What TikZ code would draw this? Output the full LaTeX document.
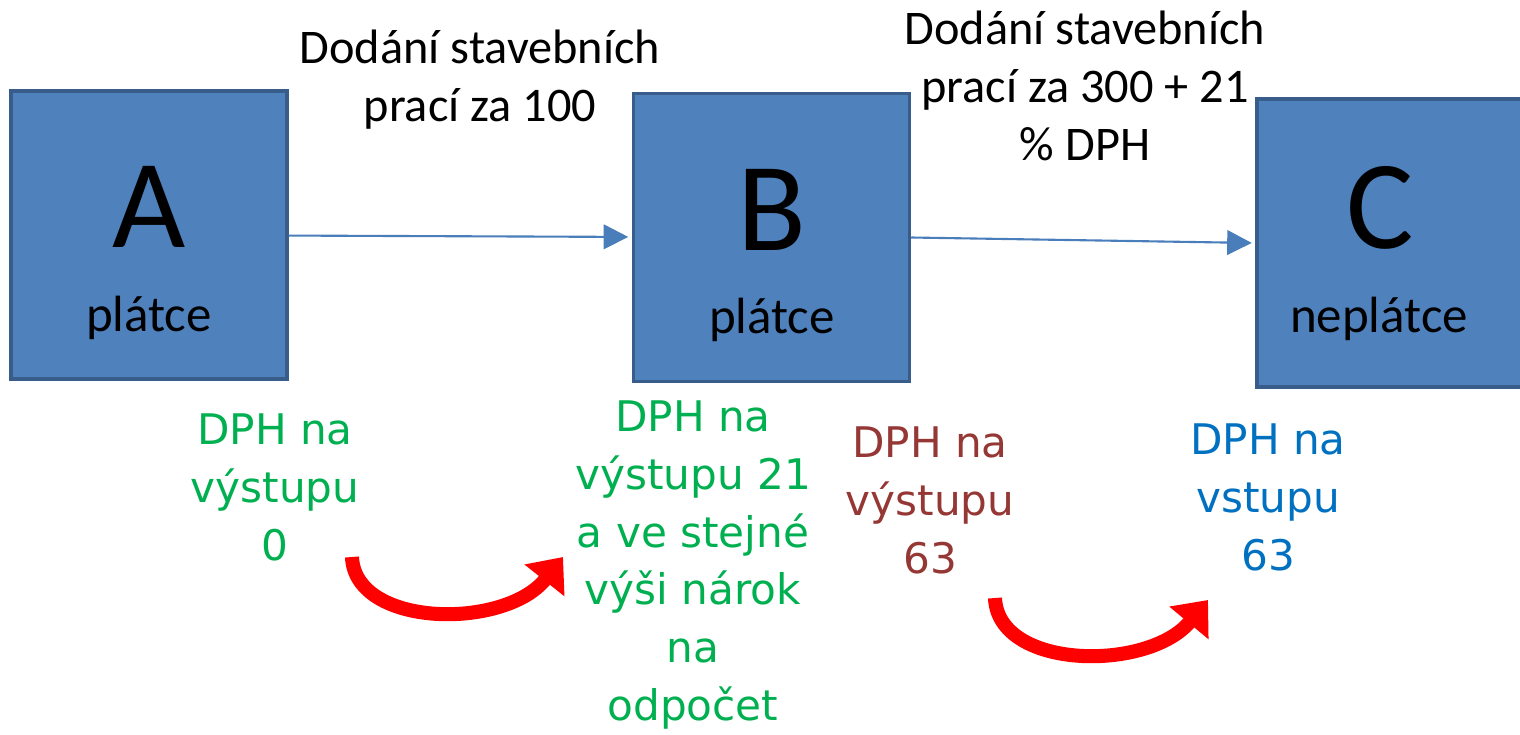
\documentclass[tikz,border=0pt]{standalone}
\usepackage{fontspec}
\setmainfont{Carlito}
\newfontfamily\handfont{DejaVu Sans}
\usetikzlibrary{arrows.meta}
\definecolor{boxfill}{RGB}{79,129,189}
\definecolor{boxline}{RGB}{56,93,138}
\definecolor{flowline}{RGB}{74,126,187}
\definecolor{vatgreen}{RGB}{0,176,80}
\definecolor{vatbrown}{RGB}{149,55,53}
\definecolor{vatblue}{RGB}{0,112,192}
\tikzset{
  party/.style={draw=boxline, fill=boxfill, line width=2pt, minimum width=5.52cm, minimum height=5.76cm, inner sep=0pt},
  letter/.style={anchor=base, font=\fontsize{72}{76}\selectfont},
  kind/.style={anchor=base, font=\fontsize{29}{34}\selectfont},
  supply/.style={align=center, font=\fontsize{27.5}{33}\selectfont},
  vat/.style={align=center, font=\handfont\fontsize{24}{33}\selectfont},
  flow/.style={draw=flowline, line width=1.2pt, shorten >=2pt, -{Triangle[length=14pt,width=14pt]}},
  credit/.style={draw=red, line width=8pt, -{Triangle[length=17pt,width=28pt]}}
}
\begin{document}
\begin{tikzpicture}[x=0.02cm,y=-0.02cm]
  \clip (0,0) rectangle (1520,734);
  % subjects
  \node[party] (A) at (149,235) {};
  \node[party] (B) at (771.5,237.5) {};
  \node[party] (C) at (1395,243) {};
  \node[letter] (Aname) at (149,247) {A};
  \node[letter] (Bname) at (772,250) {B};
  \node[letter] (Cname) at (1380,248) {C};
  \node[kind] (Akind) at (149,331) {plátce};
  \node[kind] (Bkind) at (772,333) {plátce};
  \node[kind] (Ckind) at (1379,332) {neplátce};
  % supplies
  \draw[flow] (A) -- (B);
  \draw[flow] (B.east) -- (C.west);
  \node[supply] (AB) at (480,80) {Dodání stavebních\\prací za 100};
  \node[supply] (BC) at (1085,86) {Dodání stavebních\\prací za 300 + 21\\\% DPH};
  % VAT
  \node[vat, text=vatgreen] (Aout) at (275,487) {DPH na\\výstupu\\0};
  \node[vat, text=vatgreen] (Bout) at (693,565) {DPH na\\výstupu 21\\a ve stejné\\výši nárok\\na\\odpočet};
  \node[vat, text=vatbrown] (Bout2) at (930,500) {DPH na\\výstupu\\63};
  \node[vat, text=vatblue] (Cin) at (1268,497) {DPH na\\vstupu\\63};
  % transfer
  \coordinate (s1) at (352,557);
  \coordinate (e1) at (563,557);
  \coordinate (s2) at (995,598);
  \coordinate (e2) at (1208,600);
  \draw[credit] (s1) .. controls (355,628) and (505,630) .. (e1);
  \draw[credit] (s2) .. controls (998,670) and (1148,672) .. (e2);
\end{tikzpicture}
\end{document}
